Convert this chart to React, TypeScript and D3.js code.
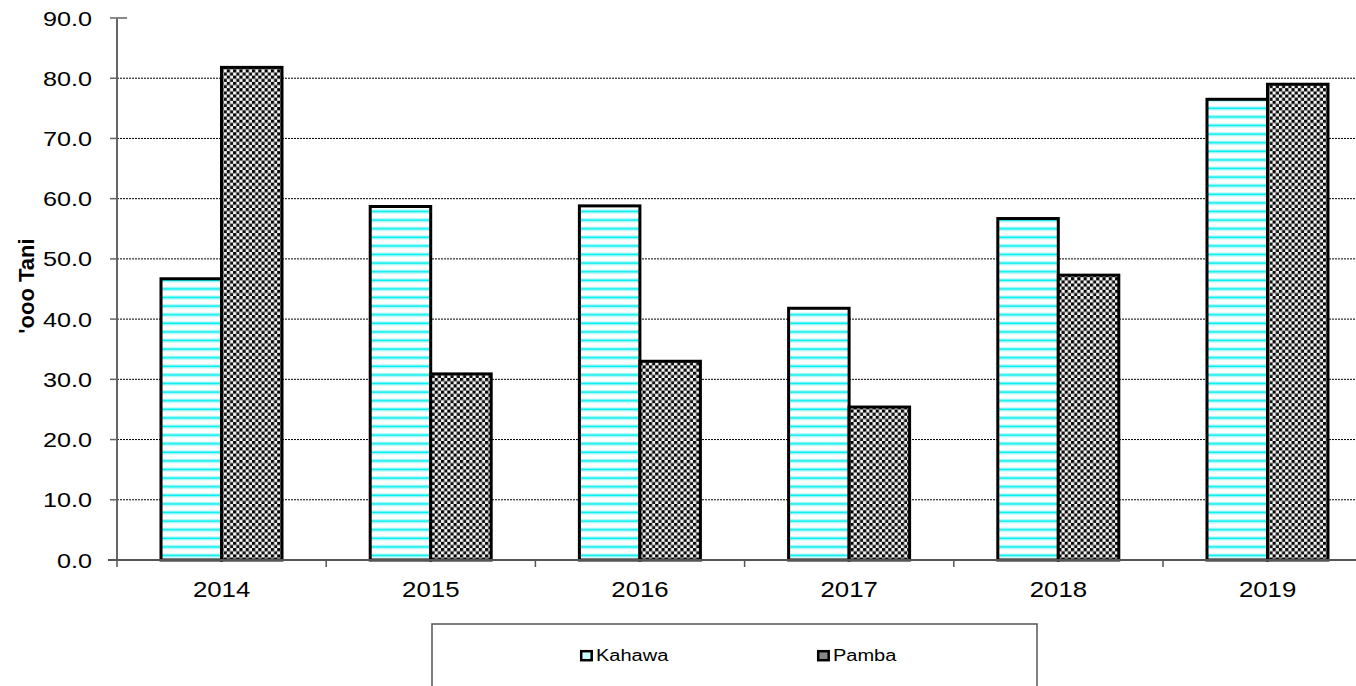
import React from "react";
import * as d3 from "d3";

const years = ["2014", "2015", "2016", "2017", "2018", "2019"];
const series = ["Kahawa", "Pamba"];
const kahawa = [46.7, 58.7, 58.8, 41.8, 56.7, 76.5];
const pamba = [81.8, 30.9, 33.0, 25.4, 47.3, 79.0];
const yTicks = [0, 10, 20, 30, 40, 50, 60, 70, 80, 90];
const yLabel = "'ooo Tani";

const W = 1356;
const H = 686;
const left = 117;
const top = 18;
const bottom = 560;
const step = 209.2;

export default function App() {
  const x = d3.scaleBand<string>().domain(years).range([left, left + step * years.length]).padding(0);
  const xSub = d3.scaleBand<string>().domain(series).range([44, 44 + 121]).padding(0);
  const y = d3.scaleLinear().domain([0, 90]).range([bottom, top]);
  const values = [kahawa, pamba];
  const fills = ["url(#stripes)", "url(#checker)"];
  const font = "'Liberation Sans', Arial, sans-serif";
  const legendX = [580, 817];

  return (
    <div style={{ position: "fixed", left: 0, top: 0 }}>
      <svg width={W} height={H} style={{ display: "block", background: "#fff" }} fontFamily={font}>
        <defs>
          <pattern id="stripes" patternUnits="userSpaceOnUse" width={8} height={8.6}>
            <rect width={8} height={8.6} fill="#fff" />
            <rect y={3} width={8} height={1.2} fill="#c8f8f8" />
            <rect y={4.2} width={8} height={2} fill="#00f0f0" />
            <rect y={6.2} width={8} height={1} fill="#b0f4f4" />
          </pattern>
          <pattern id="checker" patternUnits="userSpaceOnUse" width={6.3} height={6.3}>
            <rect width={6.3} height={6.3} fill="#f4f4f4" />
            <rect x={0} y={0} width={3.15} height={3.15} fill="#000" />
            <rect x={3.15} y={3.15} width={3.15} height={3.15} fill="#111" />
          </pattern>
        </defs>

        {/* gridlines */}
        {yTicks.filter((t) => t > 0 && t < 90).map((t) => (
          <line key={t} x1={left} x2={W} y1={y(t)} y2={y(t)} stroke="#000" strokeWidth={1} strokeDasharray="2,1" />
        ))}

        {/* bars */}
        {years.map((yr, i) => (
          <g key={yr}>
            {series.map((s, j) => (
              <rect
                key={s}
                x={(x(yr) as number) + (xSub(s) as number)}
                y={y(values[j][i])}
                width={xSub.bandwidth()}
                height={bottom - y(values[j][i])}
                fill={fills[j]}
                stroke="#000"
                strokeWidth={3}
              />
            ))}
          </g>
        ))}

        {/* y axis */}
        <line x1={left} x2={left} y1={top} y2={bottom} stroke="#666" strokeWidth={2} />
        {yTicks.map((t) => (
          <g key={t}>
            <line x1={left - 7} x2={left} y1={y(t)} y2={y(t)} stroke="#666" strokeWidth={1.5} />
            <text transform={`translate(92,${y(t)}) scale(1.2,1)`} dy="0.36em" textAnchor="end" fontSize={21} fill="#000">
              {t.toFixed(1)}
            </text>
          </g>
        ))}
        <line x1={left} x2={left + 10} y1={top} y2={top} stroke="#888" strokeWidth={2} />

        {/* x axis */}
        <line x1={108} x2={W} y1={bottom} y2={bottom} stroke="#555" strokeWidth={2} />
        {years.map((yr) => (
          <line key={yr} x1={x(yr) as number} x2={x(yr) as number} y1={bottom} y2={bottom + 7} stroke="#555" strokeWidth={1.5} />
        ))}
        {years.map((yr) => (
          <text
            key={yr}
            transform={`translate(${(x(yr) as number) + x.bandwidth() / 2},597) scale(1.2,1)`}
            textAnchor="middle"
            fontSize={21.5}
            fill="#000"
          >
            {yr}
          </text>
        ))}

        {/* y label */}
        <text transform={`translate(34,286) rotate(-90)`} textAnchor="middle" fontSize={22} fontWeight="bold" fill="#000">
          {yLabel}
        </text>

        {/* legend */}
        <rect x={432} y={624} width={605} height={80} fill="#fff" stroke="#555" strokeWidth={1.5} />
        {series.map((s, j) => {
          const lx = legendX[j];
          return (
            <g key={s}>
              <rect x={lx + 1.2} y={651.2} width={10.5} height={9} fill={j === 0 ? "#cff" : "#888"} stroke="#000" strokeWidth={2.5} />
              <text transform={`translate(${lx + 16},661) scale(1.25,1)`} fontSize={16} fill="#000">{s}</text>
            </g>
          );
        })}
      </svg>
    </div>
  );
}
